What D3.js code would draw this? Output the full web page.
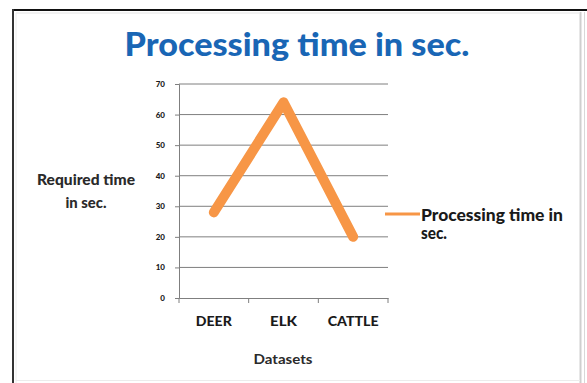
<!DOCTYPE html>
<html>
<head>
<meta charset="utf-8">
<script src="https://cdn.jsdelivr.net/npm/d3@7"></script>
<style>
  html, body { margin: 0; padding: 0; background: #fff; }
  svg { display: block; }
</style>
</head>
<body>
<svg id="chart" width="587" height="383"></svg>
<script>
// Chart data
const categories = ["DEER", "ELK", "CATTLE"];
const seriesName = "Processing time in sec.";
const values = [28, 64, 20];
const yTicks = [0, 10, 20, 30, 40, 50, 60, 70];

const svg = d3.select("#chart");
const W = 587, H = 383;
const FONT = "Lato, sans-serif";

// Frame around the chart area
svg.append("rect").attr("x", 0).attr("y", 0).attr("width", W).attr("height", H).attr("fill", "#fff");
svg.append("line").attr("x1", 12).attr("x2", 587).attr("y1", 10).attr("y2", 10)
  .attr("stroke", "#111").attr("stroke-width", 2);
svg.append("line").attr("x1", 13).attr("x2", 13).attr("y1", 9).attr("y2", 383)
  .attr("stroke", "#333").attr("stroke-width", 2);
svg.append("line").attr("x1", 16).attr("x2", 579).attr("y1", 13).attr("y2", 13)
  .attr("stroke", "#e4e4e4").attr("stroke-width", 1);
svg.append("line").attr("x1", 16).attr("x2", 16).attr("y1", 13).attr("y2", 383)
  .attr("stroke", "#ececec").attr("stroke-width", 1);
svg.append("line").attr("x1", 580.5).attr("x2", 580.5).attr("y1", 12).attr("y2", 383)
  .attr("stroke", "#cfcfcf").attr("stroke-width", 2);
svg.append("line").attr("x1", 584.5).attr("x2", 584.5).attr("y1", 12).attr("y2", 383)
  .attr("stroke", "#d8d8d8").attr("stroke-width", 1);
svg.append("line").attr("x1", 16).attr("x2", 580).attr("y1", 380.5).attr("y2", 380.5)
  .attr("stroke", "#ececec").attr("stroke-width", 1);

// Scales
const plot = { left: 179, right: 388, top: 84, bottom: 298 };
const x = d3.scaleBand().domain(categories).range([plot.left, plot.right]);
const y = d3.scaleLinear().domain([0, 70]).range([plot.bottom, plot.top]);

// Gridlines
svg.append("g").selectAll("line").data(yTicks.filter(d => d > 0)).join("line")
  .attr("x1", plot.left).attr("x2", plot.right)
  .attr("y1", d => y(d)).attr("y2", d => y(d))
  .attr("stroke", "#7f7f7f").attr("stroke-width", 1);

// Y axis
const yAxis = svg.append("g").attr("transform", `translate(${plot.left},0)`)
  .call(d3.axisLeft(y).tickValues(yTicks).tickSize(4).tickPadding(10));
yAxis.select(".domain").attr("stroke", "#7f7f7f");
yAxis.selectAll(".tick line").attr("stroke", "#7f7f7f");
yAxis.selectAll("text").attr("font-family", FONT).attr("font-weight", 900)
  .attr("font-size", 8).attr("fill", "#1a1a1a");

// X axis
const xAxis = svg.append("g").attr("transform", `translate(0,${plot.bottom})`)
  .call(d3.axisBottom(x).tickSize(0).tickPadding(18));
xAxis.select(".domain").attr("stroke", "#7f7f7f");
const xWidths = { DEER: 36, ELK: 27, CATTLE: 51 };
xAxis.selectAll("text").attr("font-family", FONT).attr("font-weight", 900)
  .attr("font-size", 13.5).attr("fill", "#1a1a1a")
  .attr("textLength", d => xWidths[d]).attr("lengthAdjust", "spacingAndGlyphs");
// Tick marks at band boundaries
const bounds = categories.map(c => x(c)).concat([x(categories[categories.length - 1]) + x.bandwidth()]);
svg.append("g").selectAll("line").data(bounds).join("line")
  .attr("x1", d => d).attr("x2", d => d)
  .attr("y1", plot.bottom).attr("y2", plot.bottom + 5)
  .attr("stroke", "#7f7f7f").attr("stroke-width", 1);

// Series line
const line = d3.line()
  .x((d, i) => x(categories[i]) + x.bandwidth() / 2)
  .y(d => y(d));
svg.append("path").datum(values)
  .attr("d", line)
  .attr("fill", "none")
  .attr("stroke", "#f79646")
  .attr("stroke-width", 10)
  .attr("stroke-linejoin", "round")
  .attr("stroke-linecap", "round");

// Title
svg.append("text").attr("x", 297).attr("y", 56)
  .attr("text-anchor", "middle")
  .attr("font-family", FONT).attr("font-weight", 900)
  .attr("font-size", 33).attr("fill", "#1966b5")
  .attr("textLength", 345).attr("lengthAdjust", "spacingAndGlyphs")
  .text(seriesName);

// Y axis title
const yTitle = svg.append("text").attr("text-anchor", "middle")
  .attr("font-family", FONT).attr("font-weight", 900)
  .attr("font-size", 14.5).attr("fill", "#2a2a2a")
  .attr("lengthAdjust", "spacingAndGlyphs");
yTitle.append("tspan").attr("x", 86).attr("y", 185).attr("textLength", 98)
  .attr("lengthAdjust", "spacingAndGlyphs").text("Required time");
yTitle.append("tspan").attr("x", 86).attr("y", 208).attr("textLength", 41)
  .attr("lengthAdjust", "spacingAndGlyphs").text("in sec.");

// X axis title
svg.append("text").attr("x", 283).attr("y", 364)
  .attr("text-anchor", "middle")
  .attr("font-family", FONT).attr("font-weight", "bold")
  .attr("font-size", 14).attr("fill", "#2a2a2a")
  .attr("textLength", 59).attr("lengthAdjust", "spacingAndGlyphs")
  .text("Datasets");

// Legend
svg.append("line").attr("x1", 385).attr("x2", 420).attr("y1", 214).attr("y2", 214)
  .attr("stroke", "#f79646").attr("stroke-width", 3);
const leg = svg.append("text")
  .attr("font-family", FONT).attr("font-weight", 900)
  .attr("font-size", 16).attr("fill", "#1a1a1a");
leg.append("tspan").attr("x", 421).attr("y", 221).attr("textLength", 142)
  .attr("lengthAdjust", "spacingAndGlyphs").text("Processing time in");
leg.append("tspan").attr("x", 421).attr("y", 239).attr("textLength", 26)
  .attr("lengthAdjust", "spacingAndGlyphs").text("sec.");
</script>
</body>
</html>
